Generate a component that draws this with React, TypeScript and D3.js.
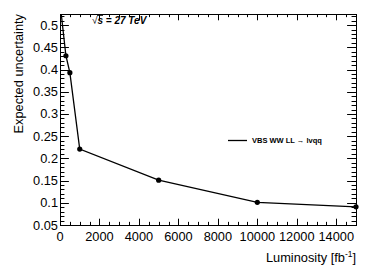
import React, { useEffect, useRef } from 'react';
import * as d3 from 'd3';

// luminosity points [fb^-1] and expected uncertainty
const lumi = [0, 300, 500, 1000, 5000, 10000, 15000];
const uncertainty = [0.55, 0.431, 0.393, 0.221, 0.151, 0.101, 0.091];

const xTicks = [0, 2000, 4000, 6000, 8000, 10000, 12000, 14000];
const yTicks = [0.05, 0.1, 0.15, 0.2, 0.25, 0.3, 0.35, 0.4, 0.45, 0.5];

export default function App() {
  const ref = useRef<SVGSVGElement>(null);

  useEffect(() => {
    const svg = d3.select(ref.current);
    svg.selectAll('*').remove();

    const font = '"Liberation Sans", Arial, sans-serif';
    const left = 60, right = 356, top = 14, bottom = 225;

    const x = d3.scaleLinear().domain([0, 15000]).range([left, right]);
    const y = d3.scaleLinear().domain([0.05, 0.525]).range([bottom, top]);

    const xMajorLen = 6.3, yMajorLen = 8.9;

    // ticks, drawn on all four sides pointing in
    const g = svg.append('g').attr('stroke', '#000').attr('stroke-width', 1);
    const xMinor = d3.range(0, 15001, 500);
    xMinor.forEach((v) => {
      const len = v % 2000 === 0 ? xMajorLen : xMajorLen / 2;
      const px = Math.round(x(v)) + 0.5;
      g.append('line').attr('x1', px).attr('x2', px).attr('y1', bottom).attr('y2', bottom - len);
      g.append('line').attr('x1', px).attr('x2', px).attr('y1', top).attr('y2', top + len);
    });
    const yMinor = d3.range(0, 48).map((i) => 0.05 + i * 0.01).filter((v) => v <= 0.5251);
    yMinor.forEach((v, i) => {
      const len = i % 5 === 0 ? yMajorLen : yMajorLen / 2;
      const py = Math.round(y(v)) + 0.5;
      g.append('line').attr('x1', left).attr('x2', left + len).attr('y1', py).attr('y2', py);
      g.append('line').attr('x1', right).attr('x2', right - len).attr('y1', py).attr('y2', py);
    });

    // frame
    svg.append('rect')
      .attr('x', left + 0.5).attr('y', top + 0.5)
      .attr('width', right - left).attr('height', bottom - top)
      .attr('fill', 'none').attr('stroke', '#000').attr('stroke-width', 1);

    // tick labels
    svg.append('g').selectAll('text').data(xTicks).enter().append('text')
      .attr('x', (d) => x(d)).attr('y', 240.5)
      .attr('text-anchor', 'middle')
      .attr('font-family', font).attr('font-size', 12.8)
      .text((d) => String(d));

    svg.append('g').selectAll('text').data(yTicks).enter().append('text')
      .attr('x', 58).attr('y', (d) => y(d) + 4.5)
      .attr('text-anchor', 'end')
      .attr('font-family', font).attr('font-size', 12.8)
      .text((d) => String(+d.toFixed(2)));

    // axis titles
    const xt = svg.append('text')
      .attr('x', 356).attr('y', 262)
      .attr('text-anchor', 'end')
      .attr('font-family', font).attr('font-size', 12.8);
    xt.append('tspan').text('Luminosity [fb');
    xt.append('tspan').attr('font-size', 8.5).attr('dy', -5).text('-1');
    xt.append('tspan').attr('dy', 5).text(']');

    svg.append('text')
      .attr('transform', `translate(22.5, ${top}) rotate(-90)`)
      .attr('text-anchor', 'end')
      .attr('font-family', font).attr('font-size', 12.8)
      .text('Expected uncertainty');

    // curve
    svg.append('clipPath').attr('id', 'frame')
      .append('rect').attr('x', left).attr('y', top)
      .attr('width', right - left).attr('height', bottom - top);

    const pts = lumi.map((l, i) => [l, uncertainty[i]] as [number, number]);
    const line = d3.line<[number, number]>().x((d) => x(d[0])).y((d) => y(d[1]));

    svg.append('path')
      .attr('d', line(pts))
      .attr('clip-path', 'url(#frame)')
      .attr('fill', 'none').attr('stroke', '#000').attr('stroke-width', 1.3);

    svg.append('g').selectAll('circle')
      .data(pts.filter((d) => d[1] <= 0.525))
      .enter().append('circle')
      .attr('cx', (d) => x(d[0])).attr('cy', (d) => y(d[1]))
      .attr('r', 2.6).attr('fill', '#000');

    // energy label
    const s = svg.append('text')
      .attr('x', 92).attr('y', 23.5)
      .attr('font-family', font).attr('font-size', 10)
      .attr('font-weight', 'bold').attr('font-style', 'italic');
    s.append('tspan').attr('font-style', 'normal').attr('font-weight', 'normal').text('√');
    s.append('tspan').text('s = 27 TeV');
    svg.append('line')
      .attr('x1', 97).attr('x2', 103).attr('y1', 15.5).attr('y2', 15.5)
      .attr('stroke', '#000').attr('stroke-width', 0.8);

    // legend
    svg.append('line')
      .attr('x1', 228).attr('x2', 247).attr('y1', 140.5).attr('y2', 140.5)
      .attr('stroke', '#000').attr('stroke-width', 1.3);
    svg.append('text')
      .attr('x', 252).attr('y', 143)
      .attr('font-family', font).attr('font-size', 7.5).attr('font-weight', 'bold')
      .text('VBS WW LL \u2192 lvqq');
  }, []);

  return (
    <svg ref={ref} width={374} height={269}
      style={{ position: 'absolute', left: 0, top: 0, background: '#fff' }} />
  );
}
